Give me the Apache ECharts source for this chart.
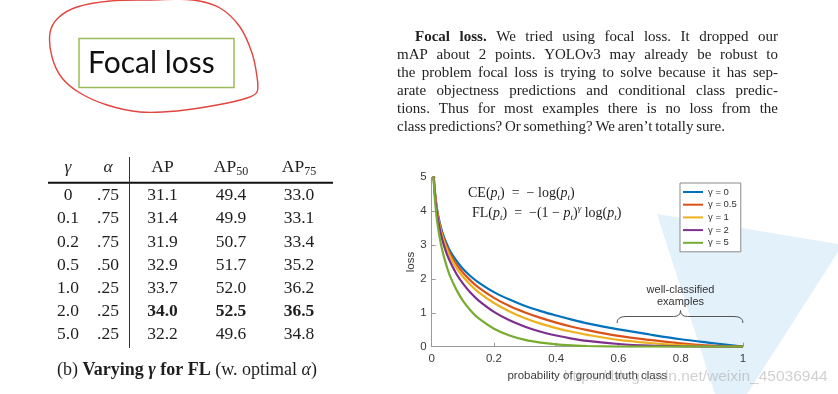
<!DOCTYPE html>
<html><head><meta charset="utf-8">
<script src="https://cdn.jsdelivr.net/npm/echarts@6/dist/echarts.min.js"></script>
<style>html,body{margin:0;padding:0;background:#fff}#c{width:838px;height:394px}</style>
</head><body><div id="c"></div>
<script>
// ---------- chart data ----------
const probability = [0.004, 0.0067, 0.01, 0.015, 0.02, 0.03, 0.04, 0.05, 0.06, 0.08, 0.1, 0.125, 0.15, 0.2, 0.25, 0.3, 0.35, 0.4, 0.45, 0.5, 0.6, 0.7, 0.8, 0.9, 1.0];
const lossGamma0  = [5.52, 5.01, 4.61, 4.20, 3.91, 3.51, 3.22, 3.00, 2.81, 2.53, 2.30, 2.08, 1.90, 1.61, 1.39, 1.20, 1.05, 0.92, 0.80, 0.69, 0.51, 0.36, 0.22, 0.11, 0];
const lossGamma05 = [5.51, 4.99, 4.58, 4.17, 3.87, 3.45, 3.15, 2.92, 2.73, 2.42, 2.19, 1.95, 1.75, 1.44, 1.20, 1.01, 0.85, 0.71, 0.59, 0.49, 0.32, 0.20, 0.10, 0.03, 0];
const lossGamma1  = [5.50, 4.97, 4.56, 4.14, 3.83, 3.40, 3.09, 2.85, 2.64, 2.32, 2.07, 1.82, 1.61, 1.29, 1.04, 0.84, 0.68, 0.55, 0.44, 0.35, 0.20, 0.11, 0.045, 0.01, 0];
const lossGamma2  = [5.48, 4.94, 4.51, 4.08, 3.76, 3.30, 2.97, 2.70, 2.49, 2.14, 1.87, 1.59, 1.37, 1.03, 0.78, 0.59, 0.44, 0.33, 0.24, 0.17, 0.08, 0.03, 0.009, 0.001, 0];
const lossGamma5  = [5.41, 4.84, 4.38, 3.89, 3.54, 3.01, 2.63, 2.32, 2.06, 1.67, 1.36, 1.07, 0.84, 0.53, 0.33, 0.20, 0.12, 0.07, 0.04, 0.02, 0.005, 0.001, 0, 0, 0];
const seriesNames = ['γ = 0', 'γ = 0.5', 'γ = 1', 'γ = 2', 'γ = 5'];
const xTicks = [0, 0.2, 0.4, 0.6, 0.8, 1];
const yTicks = [0, 1, 2, 3, 4, 5];

// ---------- table data ----------
const tableGamma = ['0', '0.1', '0.2', '0.5', '1.0', '2.0', '5.0'];
const tableAlpha = ['.75', '.75', '.75', '.50', '.25', '.25', '.25'];
const tableAP    = ['31.1', '31.4', '31.9', '32.9', '33.7', '34.0', '32.2'];
const tableAP50  = ['49.4', '49.9', '50.7', '51.7', '52.0', '52.5', '49.6'];
const tableAP75  = ['33.0', '33.1', '33.4', '35.2', '36.2', '36.5', '34.8'];
const bestRowIndex = 5;

// ---------- texts ----------
const slideTitle = 'Focal loss';
const paragraphLead = 'Focal loss.';
const paragraphLines = [
  'We tried using focal loss. It dropped our',
  'mAP about 2 points. YOLOv3 may already be robust to',
  'the problem focal loss is trying to solve because it has sep-',
  'arate objectness predictions and conditional class predic-',
  'tions. Thus for most examples there is no loss from the',
  'class predictions? Or something? We aren’t totally sure.'
];
const annotationText = ['well-classified', 'examples'];
const watermark = 'https://blog.csdn.net/weixin_45036944';

// ---------- rendering ----------
const colors = ['#0072BD', '#D95319', '#EDB120', '#7E2F8E', '#77AC30'];
const allLoss = [lossGamma0, lossGamma05, lossGamma1, lossGamma2, lossGamma5];
const serif = '"Liberation Serif", "Times New Roman", serif';
const sans = '"Liberation Sans", Arial, sans-serif';
const ink = '#1e1e1e';

const chart = echarts.init(document.getElementById('c'), null, {renderer: 'canvas'});
const g = [];
function T(x, y, text, font, extra) {
  const st = Object.assign({x: x, y: y, text: text, font: font, fill: ink,
    align: 'left', textAlign: 'left', verticalAlign: 'middle', textVerticalAlign: 'middle'}, extra || {});
  if (extra && extra.align) st.textAlign = extra.align;
  g.push({type: 'text', z: 100, style: st});
}

// light blue wedge
g.push({type: 'polygon', z: -5, shape: {points: [[657, 214], [838, 244], [838, 252], [747, 394], [715, 394]]},
  style: {fill: '#e3f1fb'}});

// title box + red hand-drawn ellipse
g.push({type: 'rect', z: 90, shape: {x: 79, y: 38.5, width: 155, height: 49}, style: {fill: '#fff', stroke: '#9bbb59', lineWidth: 1.5}});
T(88, 63, slideTitle, '30px Lato, ' + sans, {fill: '#111'});
g.push({type: 'polygon', z: 95, shape: {smooth: 0.35, points: [
  [50, 33], [58, 18], [77, 7], [110, 1], [150, 0], [193, 0], [220, 8], [240, 27], [252, 53], [257, 77],
  [257, 92], [247, 98], [217, 105], [177, 111], [140, 112], [107, 105], [80, 93], [62, 78], [52, 57]]},
  style: {fill: null, stroke: '#e0453f', lineWidth: 1.4}});

// paragraph (justified)
const mctx = document.createElement('canvas').getContext('2d');
function tw(s, font) { mctx.font = font; return mctx.measureText(s).width; }
const pReg = '15px ' + serif, pBold = 'bold 15px ' + serif;
paragraphLines.forEach(function (line, i) {
  const y = 37 + i * 18.1;
  const words = [];
  if (i === 0) paragraphLead.split(' ').forEach(function (w) { words.push({t: w, f: pBold}); });
  line.split(' ').forEach(function (w) { words.push({t: w, f: pReg}); });
  const x0 = i === 0 ? 415 : 397;
  const widths = words.map(function (w) { return tw(w.t, w.f); });
  const total = widths.reduce(function (a, b) { return a + b; }, 0);
  const last = i === paragraphLines.length - 1;
  const gap = last ? Math.min((725 - x0 - total) / (words.length - 1), tw(' ', pReg) * 1.6) : (778 - x0 - total) / (words.length - 1);
  let x = x0;
  words.forEach(function (w, k) { T(x, y, w.t, w.f, {fill: '#222'}); x += widths[k] + gap; });
});

// table
const tFont = '17.5px ' + serif, tBold = 'bold 17.5px ' + serif, tItal = 'italic 17.5px ' + serif;
const colX = [68, 108, 162.5, 231, 299];
const subRich = {n: {font: tFont, fill: ink, lineHeight: 20}, s: {font: '12px ' + serif, fill: ink, lineHeight: 12, verticalAlign: 'bottom'}};
T(colX[0], 167.5, 'γ', tItal, {align: 'center'});
T(colX[1], 167.5, 'α', tItal, {align: 'center'});
T(colX[2], 167.5, 'AP', tFont, {align: 'center'});
T(colX[3], 167.5, '{n|AP}{s|50}', tFont, {align: 'center', rich: subRich});
T(colX[4], 167.5, '{n|AP}{s|75}', tFont, {align: 'center', rich: subRich});
g.push({type: 'line', z: 100, shape: {x1: 48, y1: 182.7, x2: 333, y2: 182.7}, style: {stroke: '#111', lineWidth: 2}});
g.push({type: 'line', z: 100, shape: {x1: 129.5, y1: 157, x2: 129.5, y2: 348}, style: {stroke: '#333', lineWidth: 1}});
tableGamma.forEach(function (v, i) {
  const y = 195.7 + i * 23.2;
  const vf = i === bestRowIndex ? tBold : tFont;
  T(colX[0], y, v, tFont, {align: 'center'});
  T(colX[1], y, tableAlpha[i], tFont, {align: 'center'});
  T(colX[2], y, tableAP[i], vf, {align: 'center'});
  T(colX[3], y, tableAP50[i], vf, {align: 'center'});
  T(colX[4], y, tableAP75[i], vf, {align: 'center'});
});
T(187, 370, '{n|(b) }{b|Varying }{bi|γ}{b| for FL}{n| (w. optimal }{i|α}{n|)}', tFont, {align: 'center', rich: {
  n: {font: '18px ' + serif, fill: ink}, b: {font: 'bold 18px ' + serif, fill: ink},
  bi: {font: 'italic bold 18px ' + serif, fill: ink}, i: {font: 'italic 18px ' + serif, fill: ink}}});

// formulas in plot
const fRich = {
  n: {font: '14px ' + serif, fill: ink, lineHeight: 18},
  i: {font: 'italic 14px ' + serif, fill: ink, lineHeight: 18},
  s: {font: 'italic 9px ' + serif, fill: ink, lineHeight: 9, verticalAlign: 'bottom'},
  u: {font: 'italic 9px ' + serif, fill: ink, lineHeight: 9, verticalAlign: 'top'}
};
T(468, 193, '{n|CE(}{i|p}{s|t}{n|)  =  − log(}{i|p}{s|t}{n|)}', '14px ' + serif, {rich: fRich});
T(472, 213, '{n|FL(}{i|p}{s|t}{n|)  =  −(1 − }{i|p}{s|t}{n|)}{u|γ}{n| log(}{i|p}{s|t}{n|)}', '14px ' + serif, {rich: fRich});

// brace annotation
const bs = {stroke: '#555', lineWidth: 1, fill: null};
const xL = 617, xR = 743, xM = 680.5, yE = 323, yB = 316.5, yP = 310.5;
g.push({type: 'bezierCurve', z: 100, shape: {x1: xL, y1: yE, x2: xL + 9, y2: yB, cpx1: xL, cpy1: yB}, style: bs});
g.push({type: 'line', z: 100, shape: {x1: xL + 9, y1: yB, x2: xM - 7, y2: yB}, style: bs});
g.push({type: 'bezierCurve', z: 100, shape: {x1: xM - 7, y1: yB, x2: xM, y2: yP, cpx1: xM, cpy1: yB}, style: bs});
g.push({type: 'bezierCurve', z: 100, shape: {x1: xM, y1: yP, x2: xM + 7, y2: yB, cpx1: xM, cpy1: yB}, style: bs});
g.push({type: 'line', z: 100, shape: {x1: xM + 7, y1: yB, x2: xR - 9, y2: yB}, style: bs});
g.push({type: 'bezierCurve', z: 100, shape: {x1: xR - 9, y1: yB, x2: xR, y2: yE, cpx1: xR, cpy1: yB}, style: bs});
T(xM, 290, annotationText[0], '11px ' + sans, {align: 'center', fill: '#333'});
T(xM, 302, annotationText[1], '11px ' + sans, {align: 'center', fill: '#333'});

// watermark
T(564, 377, watermark, '15.5px ' + sans, {fill: 'rgba(150,150,150,0.45)'});

const axisGray = '#9a9a9a';
chart.setOption({
  animation: false,
  backgroundColor: '#fff',
  grid: {left: 431.7, right: 95, top: 177.3, bottom: 47.3, containLabel: false},
  legend: {
    orient: 'vertical', left: 680, top: 183, data: seriesNames,
    icon: 'rect',
    padding: [4, 4, 4, 3], itemGap: 2.7, itemWidth: 20, itemHeight: 2,
    borderColor: '#8a8a8a', borderWidth: 1, backgroundColor: '#fff',
    textStyle: {fontSize: 9.5, lineHeight: 9, color: '#333', fontFamily: sans}
  },
  xAxis: {
    type: 'value', min: 0, max: 1, interval: 0.2,
    name: 'probability of ground truth class', nameLocation: 'middle', nameGap: 23,
    nameTextStyle: {fontSize: 11.5, color: '#3a3a3a', fontFamily: sans},
    axisLine: {lineStyle: {color: axisGray}},
    axisTick: {inside: true, length: 4, lineStyle: {color: axisGray}},
    axisLabel: {margin: 6, fontSize: 11.5, color: '#3a3a3a', fontFamily: sans,
      customValues: xTicks, formatter: function (v) { return String(+v.toFixed(1)); }},
    splitLine: {show: false}
  },
  yAxis: {
    type: 'value', min: 0, max: 5, interval: 1,
    name: 'loss', nameLocation: 'middle', nameGap: 12,
    nameTextStyle: {fontSize: 11.5, color: '#3a3a3a', fontFamily: sans},
    axisLine: {show: true, lineStyle: {color: axisGray}},
    axisTick: {show: true, inside: true, length: 4, lineStyle: {color: axisGray}},
    axisLabel: {margin: 5, fontSize: 11.5, color: '#3a3a3a', fontFamily: sans},
    splitLine: {show: false}
  },
  series: allLoss.map(function (arr, k) {
    return {
      type: 'line', name: seriesNames[k], showSymbol: false, symbol: 'none', smooth: 0.3, clip: true,
      color: colors[k], lineStyle: {width: 2.2, color: colors[k]}, z: 3,
      data: probability.map(function (p, i) { return [p, arr[i]]; })
    };
  }),
  graphic: {elements: g}
});
</script>
</body></html>
